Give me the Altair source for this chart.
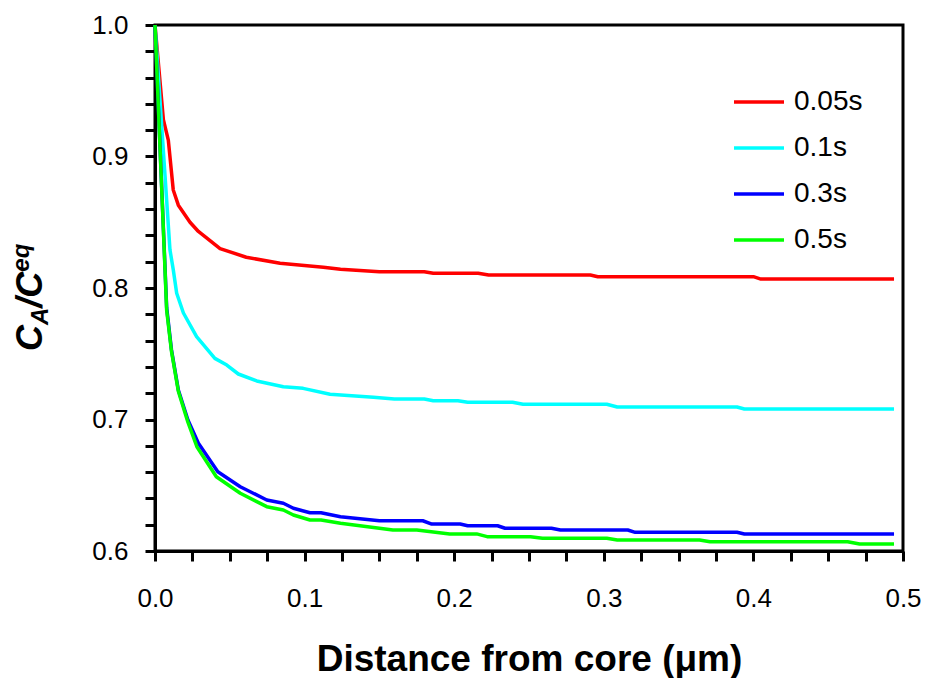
import altair as alt
import pandas as pd

series_names = ["0.05s", "0.1s", "0.3s", "0.5s"]
series_colors = ["#FF0000", "#00FFFF", "#0000FF", "#00FF00"]

red_x = [0, 0.0056, 0.0089, 0.0122, 0.0156, 0.0234, 0.029, 0.0435, 0.061, 0.0836, 0.1125, 0.124, 0.15, 0.180, 0.186, 0.216, 0.223, 0.291, 0.296, 0.400, 0.405, 0.494]
red_y = [1.0, 0.928, 0.9125, 0.8745, 0.863, 0.850, 0.843, 0.830, 0.8234, 0.8188, 0.8158, 0.8142, 0.8124, 0.8124, 0.8112, 0.8112, 0.8099, 0.8099, 0.8086, 0.8086, 0.8068, 0.8068]

cyan_x = [0, 0.010, 0.0122, 0.0145, 0.019, 0.0278, 0.040, 0.048, 0.0557, 0.068, 0.0858, 0.099, 0.117, 0.146, 0.160, 0.180, 0.186, 0.2025, 0.209, 0.239, 0.246, 0.302, 0.309, 0.389, 0.394, 0.494]
cyan_y = [1.0, 0.829, 0.814, 0.796, 0.781, 0.763, 0.7465, 0.7414, 0.7346, 0.7293, 0.7249, 0.7237, 0.7192, 0.7169, 0.7156, 0.7156, 0.7143, 0.7143, 0.7131, 0.7131, 0.7116, 0.7116, 0.7095, 0.7095, 0.708, 0.708]

blue_x = [0, 0.0078, 0.011, 0.0156, 0.022, 0.029, 0.042, 0.057, 0.0747, 0.0858, 0.0925, 0.1036, 0.111, 0.124, 0.150, 0.179, 0.185, 0.204, 0.209, 0.229, 0.234, 0.265, 0.271, 0.316, 0.321, 0.389, 0.394, 0.494]
blue_y = [1.0, 0.785, 0.753, 0.7224, 0.6996, 0.6819, 0.6603, 0.6489, 0.6388, 0.6363, 0.6325, 0.6291, 0.6291, 0.6261, 0.623, 0.623, 0.6205, 0.6205, 0.6192, 0.6192, 0.6173, 0.6173, 0.616, 0.616, 0.6142, 0.6142, 0.6129, 0.6129]

green_x = [0, 0.0078, 0.011, 0.0156, 0.022, 0.028, 0.041, 0.057, 0.0747, 0.0858, 0.0925, 0.1036, 0.111, 0.124, 0.150, 0.159, 0.175, 0.197, 0.215, 0.222, 0.251, 0.259, 0.302, 0.309, 0.364, 0.371, 0.463, 0.471, 0.494]
green_y = [1.0, 0.783, 0.752, 0.7215, 0.698, 0.6793, 0.6565, 0.6439, 0.6337, 0.6312, 0.6274, 0.6236, 0.6236, 0.6211, 0.6173, 0.616, 0.616, 0.613, 0.613, 0.6109, 0.6109, 0.6097, 0.6097, 0.6084, 0.6084, 0.6071, 0.6071, 0.6053, 0.6053]

x_tick_values = [0, 0.025, 0.05, 0.075, 0.1, 0.125, 0.15, 0.175, 0.2, 0.225, 0.25, 0.275,
                 0.3, 0.325, 0.35, 0.375, 0.4, 0.425, 0.45, 0.475, 0.5]
y_tick_values = [0.6, 0.62, 0.64, 0.66, 0.68, 0.7, 0.72, 0.74, 0.76, 0.78, 0.8,
                 0.82, 0.84, 0.86, 0.88, 0.9, 0.92, 0.94, 0.96, 0.98, 1.0]

rows = []
for name, xs, ys in zip(series_names,
                        [red_x, cyan_x, blue_x, green_x],
                        [red_y, cyan_y, blue_y, green_y]):
    for i, (xv, yv) in enumerate(zip(xs, ys)):
        rows.append({"x": xv, "y": yv, "series": name, "order": i})
df = pd.DataFrame(rows)

FONT = "Liberation Sans"
W, H = 748, 526

lines = alt.Chart(df).mark_line(strokeWidth=3.5, strokeJoin="round").encode(
    x=alt.X("x:Q", scale=alt.Scale(domain=[0, 0.5], nice=False, zero=False),
            axis=alt.Axis(values=x_tick_values, title="Distance from core (\u03bcm)",
                          labelExpr="(round(datum.value*1000) % 100 == 0) ? format(datum.value, '.1f') : ''",
                          labelOverlap=False, labelFlush=False, labelPadding=24,
                          titleFontSize=37, titleFontWeight="bold", titlePadding=30)),
    y=alt.Y("y:Q", scale=alt.Scale(domain=[0.6, 1.0], nice=False, zero=False),
            axis=alt.Axis(values=y_tick_values, title=None,
                          labelExpr="(round(datum.value*100) % 10 == 0) ? format(datum.value, '.1f') : ''",
                          labelOverlap=False, labelFlush=False, labelPadding=17)),
    color=alt.Color("series:N", scale=alt.Scale(domain=series_names, range=series_colors),
                    legend=alt.Legend(orient="none", legendX=577, legendY=50, title=None,
                                      symbolType="stroke", symbolSize=2500, symbolStrokeWidth=3.5,
                                      labelFontSize=28, labelOffset=8, rowPadding=5, padding=0,
                                      labelColor="black", labelFont=FONT)),
    order="order:Q",
)

# rotated y-axis title C_A / C^eq built from pieces
base_x = -113
start_y = 326
big, small = 36, 24
pieces = [
    ("C", big, 0, 0.722 * big),
    ("A", small, 6, 0.722 * small),
    ("/C", big, 0, (0.278 + 0.722) * big),
    ("eq", small, -13, (0.556 + 0.611) * small),
]
title_layers = []
cur = start_y
for txt, size, dx, wdt in pieces:
    t = alt.Chart(pd.DataFrame({"t": [txt]})).mark_text(
        font=FONT, fontSize=size, fontWeight="bold", fontStyle="italic",
        angle=270, align="left", baseline="alphabetic", color="black"
    ).encode(text="t:N", x=alt.value(base_x + dx), y=alt.value(cur))
    title_layers.append(t)
    cur -= wdt

chart = alt.layer(lines, *title_layers).properties(
    width=W, height=H,
    background="white",
    autosize=alt.AutoSizeParams(type="none"),
    padding={"left": 147, "top": 17, "right": 18, "bottom": 127},
).configure_view(stroke="black", strokeWidth=3).configure_axis(
    domainColor="black", domainWidth=3, tickColor="black", tickWidth=3, tickSize=10,
    labelFont=FONT, labelFontSize=26, labelColor="black", titleFont=FONT, titleColor="black",
    grid=False,
)

chart.save("out.html", embed_options={"renderer": "svg", "actions": False})
